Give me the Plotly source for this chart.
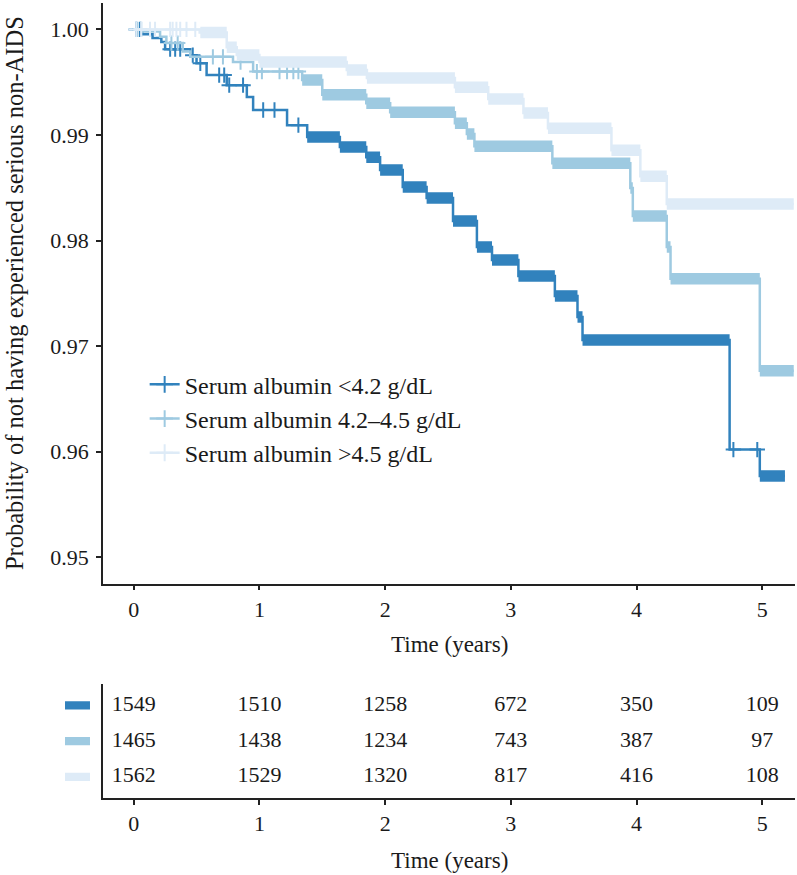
import plotly.graph_objects as go

# ---------------- data ----------------
groups = ["Serum albumin <4.2 g/dL", "Serum albumin 4.2\u20134.5 g/dL", "Serum albumin >4.5 g/dL"]
colors = ["#3182BD", "#9ECAE1", "#DEEBF7"]

# Kaplan-Meier step functions (time in years, survival after the step)
low_times = [0, 0.07, 0.15, 0.22, 0.25, 0.45, 0.50, 0.58, 0.74, 0.90, 0.95, 1.22, 1.38, 1.64,
             1.85, 1.96, 2.14, 2.33, 2.54, 2.73, 2.85, 3.06, 3.35, 3.53, 3.57, 4.74, 4.98, 5.18]
low_surv = [1.0, 0.99955, 0.99918, 0.9988, 0.99813, 0.99756, 0.9968, 0.99567, 0.99472, 0.9936,
            0.99236, 0.99093, 0.9898, 0.98885, 0.9879, 0.98668, 0.98507, 0.98403, 0.98185,
            0.97939, 0.97816, 0.97665, 0.97475, 0.97276, 0.97058, 0.9602, 0.9577, 0.9577]

mid_times = [0, 0.07, 0.21, 0.26, 0.39, 0.45, 0.79, 0.95, 1.34, 1.50, 1.85, 2.04, 2.555, 2.65,
             2.71, 3.33, 3.95, 3.97, 4.24, 4.27, 4.98, 5.25]
mid_surv = [1.0, 0.9998, 0.9993, 0.9987, 0.9979, 0.9974, 0.9969, 0.9960, 0.9952, 0.9938, 0.9930,
            0.99216, 0.9911, 0.99008, 0.98894, 0.98733, 0.98497, 0.98232, 0.9794, 0.97637,
            0.96766, 0.96766]

high_times = [0, 0.525, 0.74, 0.82, 1.00, 1.695, 1.855, 2.555, 2.82, 3.10, 3.295, 3.80, 4.03,
              4.24, 5.25]
high_surv = [1.0, 0.9997, 0.9983, 0.99757, 0.9969, 0.99615, 0.9954, 0.99453, 0.9934, 0.99207,
             0.99064, 0.98856, 0.9861, 0.98345, 0.98345]

# isolated censoring times
low_censor = [0.02, 0.05, 0.29, 0.33, 0.37, 0.47, 0.53, 0.68, 0.72, 0.76, 0.87, 1.03, 1.12,
              1.31, 4.77, 4.96]
mid_censor = [0.03, 0.06, 0.30, 0.35, 0.63, 0.71, 0.85, 0.98, 1.02, 1.16, 1.22, 1.27, 1.31]
high_censor = [0.02, 0.06, 0.13, 0.17, 0.29, 0.31, 0.34, 0.37, 0.42, 0.49]

# periods of dense (overlapping) censoring marks
low_dense_from, low_dense_to = [1.38, 4.98], [4.74, 5.18]
mid_dense_from, mid_dense_to = [1.34], [5.25]
high_dense_from, high_dense_to = [0.53], [5.25]

# number at risk
risk_times = [0, 1, 2, 3, 4, 5]
low_risk = [1549, 1510, 1258, 672, 350, 109]
mid_risk = [1465, 1438, 1234, 743, 387, 97]
high_risk = [1562, 1529, 1320, 817, 416, 108]

x_ticks = [0, 1, 2, 3, 4, 5]
y_ticks = [0.95, 0.96, 0.97, 0.98, 0.99, 1.00]

series = [
    (low_times, low_surv, low_censor, low_dense_from, low_dense_to, low_risk),
    (mid_times, mid_surv, mid_censor, mid_dense_from, mid_dense_to, mid_risk),
    (high_times, high_surv, high_censor, high_dense_from, high_dense_to, high_risk),
]


def surv_at(times, surv, t):
    v = surv[0]
    for ti, si in zip(times, surv):
        if ti <= t:
            v = si
    return v


FONT = "Liberation Serif"
TXT = "#1a1a1a"
fig = go.Figure()

for (times, surv, cens, dfrom, dto, _), col, name in zip(series, colors, groups):
    # main step line
    fig.add_trace(go.Scatter(x=times, y=surv, mode="lines", line=dict(color=col, width=2.5, shape="hv"),
                             showlegend=False, hoverinfo="skip"))
    # dense censoring bands
    bx, by = [], []
    for a, b in zip(dfrom, dto):
        for k in range(len(times) - 1):
            lo, hi = max(a, times[k]), min(b, times[k + 1])
            if hi > lo:
                bx += [lo, hi, None]
                by += [surv[k], surv[k], None]
    fig.add_trace(go.Scatter(x=bx, y=by, mode="lines", line=dict(color=col, width=11.5),
                             showlegend=False, hoverinfo="skip", connectgaps=False))
    # isolated censoring marks
    fig.add_trace(go.Scatter(x=cens, y=[surv_at(times, surv, t) for t in cens], mode="markers",
                             marker=dict(symbol="cross-thin", size=11, line=dict(color=col, width=2)),
                             showlegend=False, hoverinfo="skip"))

# legend entries
for col, name in zip(colors, groups):
    fig.add_trace(go.Scatter(x=[None], y=[None], mode="lines+markers", name=name,
                             line=dict(color=col, width=2.5),
                             marker=dict(symbol="cross-thin", size=12, line=dict(color=col, width=2))))

# risk table
row_y = [3, 2, 1]
for (_, _, _, _, _, risk), yv in zip(series, row_y):
    fig.add_trace(go.Scatter(x=risk_times, y=[yv] * len(risk_times), mode="text",
                             text=[str(v) for v in risk], textfont=dict(family=FONT, size=22, color=TXT),
                             xaxis="x2", yaxis="y2", showlegend=False, hoverinfo="skip"))

# colour keys left of the risk table
shapes = []
for yv, col in zip(row_y, colors):
    shapes.append(dict(type="rect", xref="paper", yref="y2", x0=-0.0549, x1=-0.0188,
                       y0=yv - 0.115, y1=yv + 0.115, fillcolor=col, line=dict(width=0)))

axis_common = dict(showline=True, linecolor="#222", linewidth=1.5, ticks="outside", ticklen=5,
                   tickwidth=1.5, tickcolor="#222", showgrid=False, zeroline=False,
                   tickfont=dict(family=FONT, size=22, color=TXT))

fig.update_layout(
    width=797, height=875,
    margin=dict(l=103, r=2, t=3, b=0),
    plot_bgcolor="white", paper_bgcolor="white",
    font=dict(family=FONT, size=22, color=TXT),
    xaxis=dict(domain=[0, 1], range=[-0.244, 5.26], tickvals=x_ticks, anchor="y", **axis_common),
    yaxis=dict(domain=[0.3341, 1], range=[0.9475, 1.0025], tickvals=y_ticks, tickformat=".2f",
               anchor="x", ticklabelstandoff=3, **axis_common),
    xaxis2=dict(domain=[0, 1], range=[-0.244, 5.26], tickvals=x_ticks, anchor="y2", **axis_common),
    yaxis2=dict(domain=[0.088, 0.219], range=[0.4, 3.6], anchor="x2", showline=True, linecolor="#222",
                linewidth=1.5, showticklabels=False, ticks="", showgrid=False, zeroline=False),
    legend=dict(x=0.0602, y=0.5880, xanchor="left", yanchor="top", bgcolor="rgba(0,0,0,0)",
                font=dict(family=FONT, size=24, color=TXT), traceorder="normal"),
    shapes=shapes,
    annotations=[
        dict(text="Probability of not having experienced serious non-AIDS", xref="paper", yref="paper",
             x=-0.1286, y=0.6674, textangle=-90, showarrow=False, xanchor="center", yanchor="middle",
             font=dict(family=FONT, size=24.5, color=TXT)),
        dict(text="Time (years)", xref="paper", yref="paper", x=0.5, y=0.2638, showarrow=False,
             xanchor="center", yanchor="middle", font=dict(family=FONT, size=23, color=TXT)),
        dict(text="Time (years)", xref="paper", yref="paper", x=0.5, y=0.0172, showarrow=False,
             xanchor="center", yanchor="middle", font=dict(family=FONT, size=23, color=TXT)),
    ],
)

fig.write_html("out.html", config={"displayModeBar": False},
               post_script="document.body.style.margin='0';")
